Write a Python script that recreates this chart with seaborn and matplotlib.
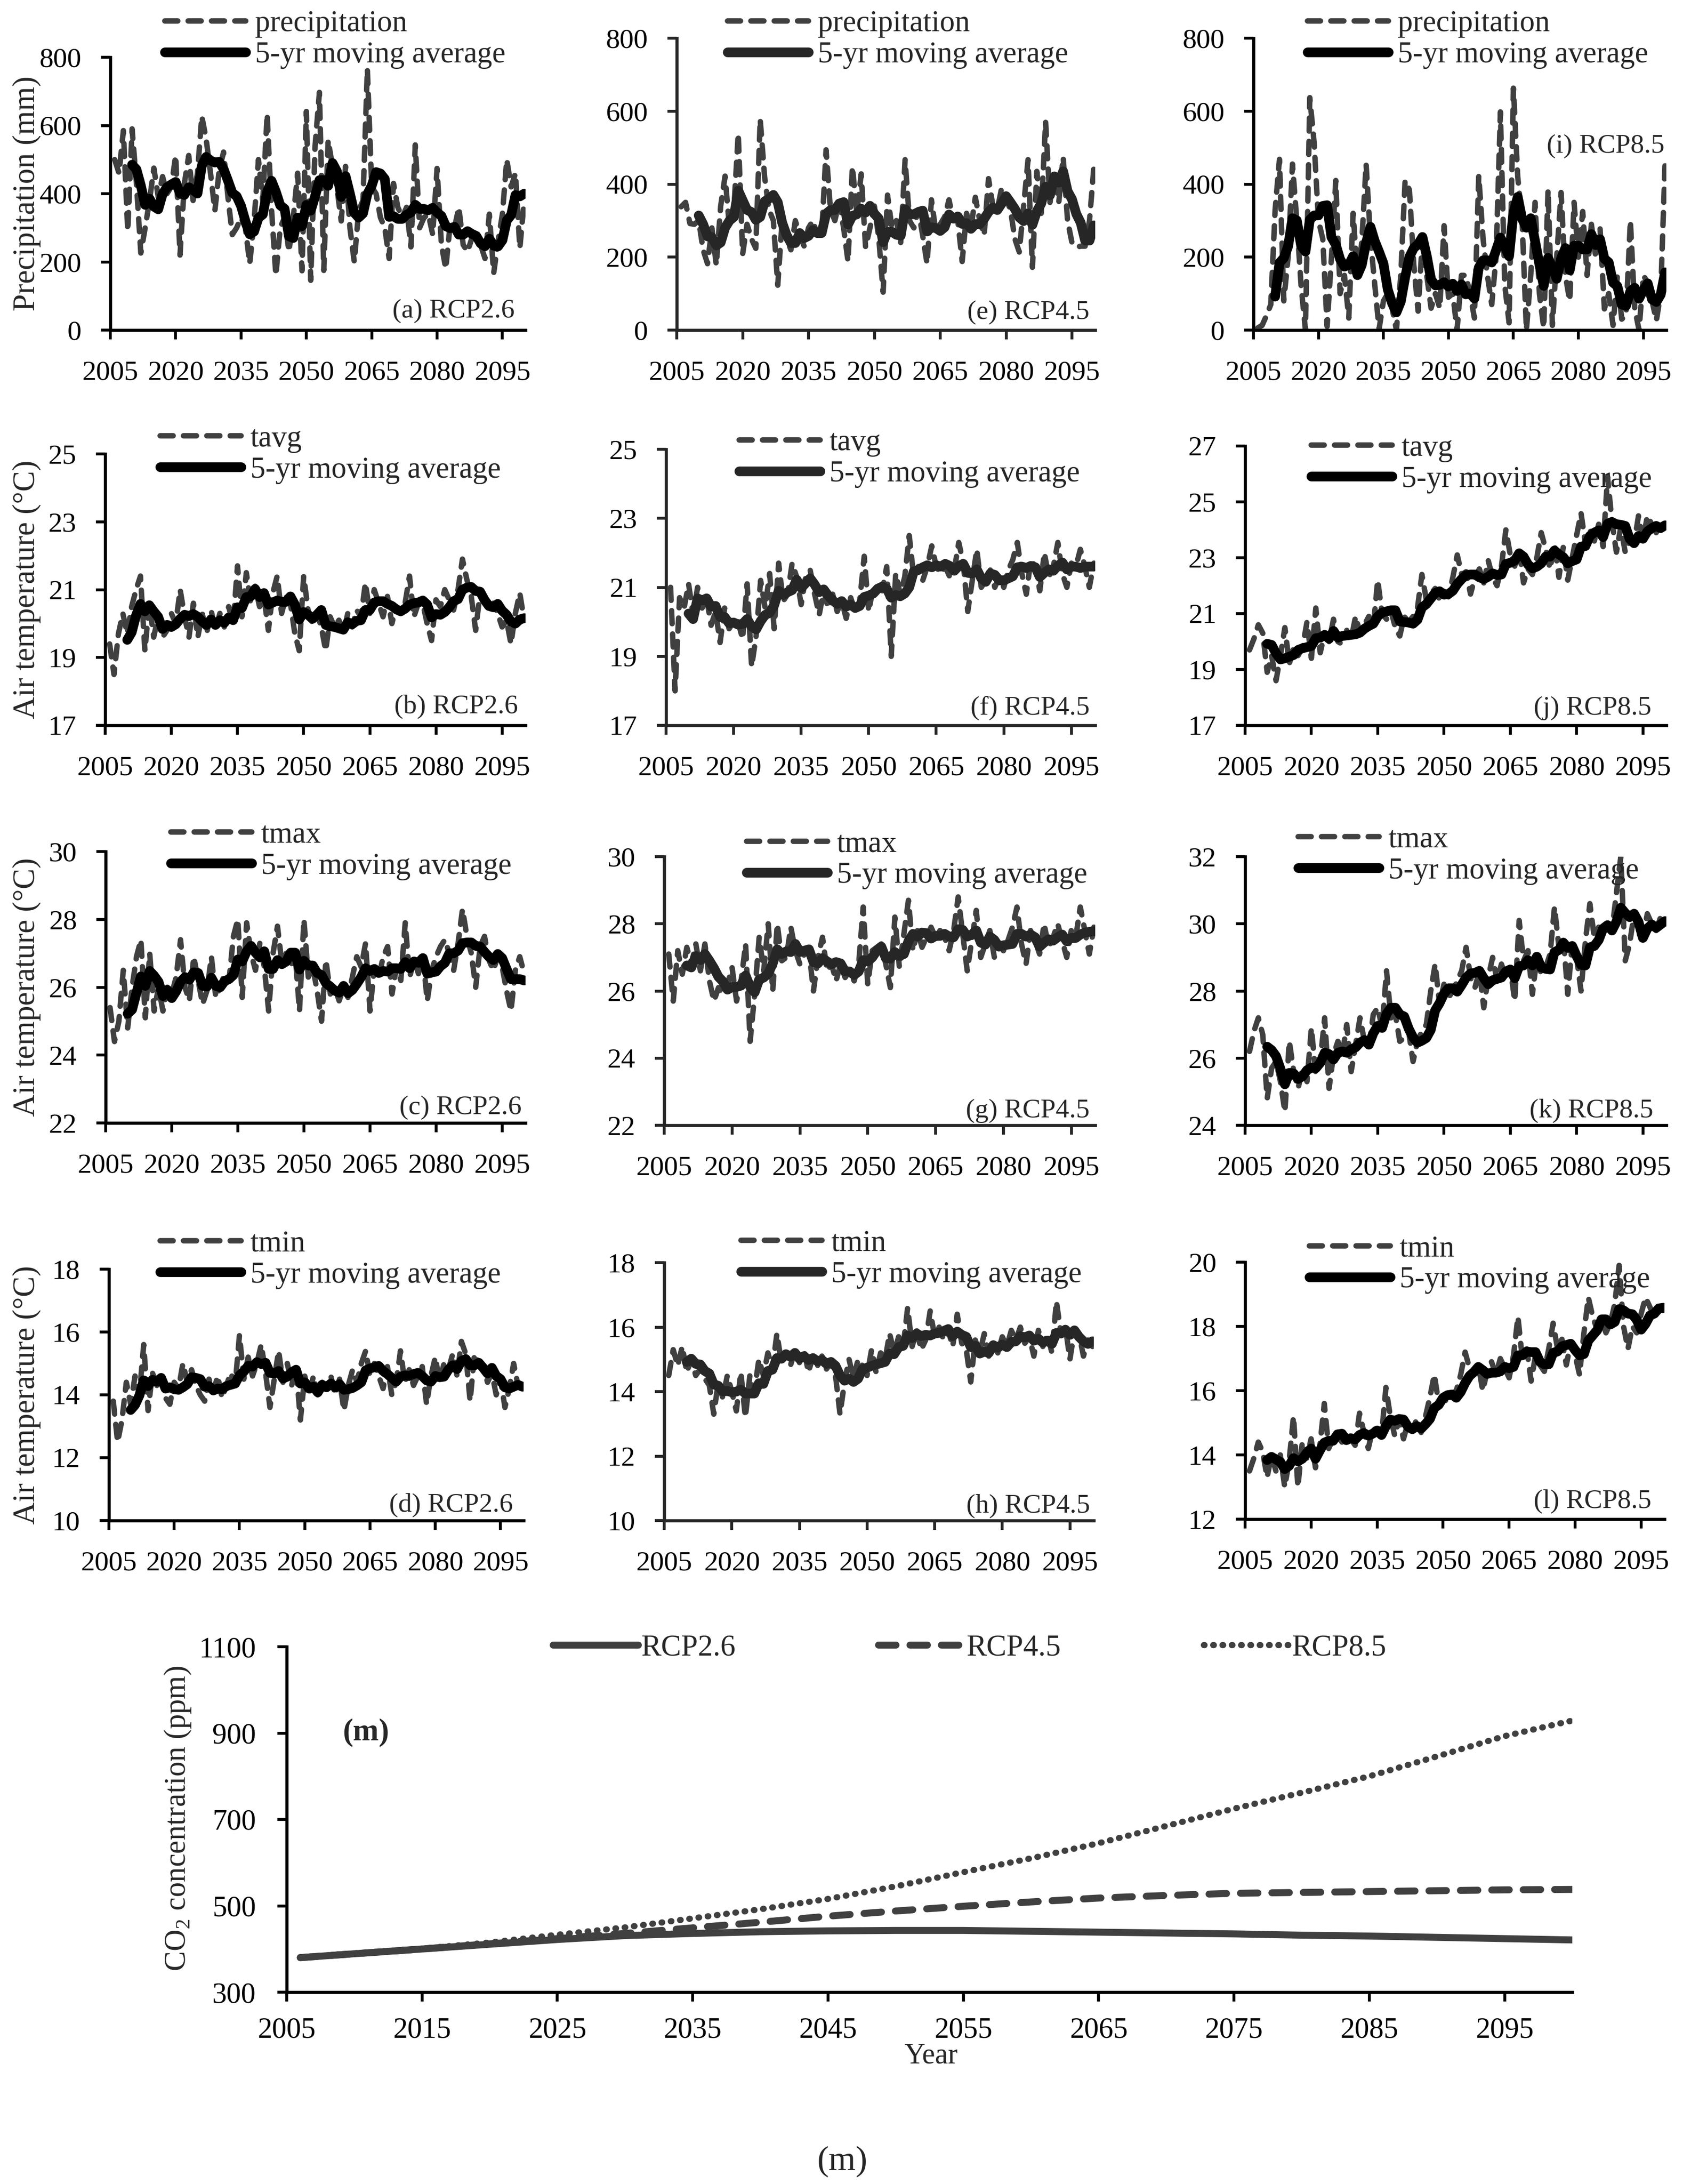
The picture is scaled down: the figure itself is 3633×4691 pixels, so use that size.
import numpy as np
import pandas as pd
import seaborn as sns
import matplotlib.pyplot as plt
from matplotlib.lines import Line2D

# ---- data (annual values 2006-2100) ----
years = list(range(2006, 2101))

precip_rcp26 = [500, 460, 585, 290, 590, 430, 226, 300, 380, 475,
                390, 450, 400, 420, 512, 220, 430, 512, 380, 460,
                627, 560, 460, 350, 470, 522, 390, 280, 300, 330,
                300, 195, 320, 500, 380, 634, 355, 160, 300, 330,
                230, 330, 460, 174, 641, 146, 540, 697, 175, 557,
                480, 420, 320, 480, 300, 200, 350, 380, 766, 420,
                400, 330, 300, 210, 430, 360, 330, 360, 244, 543,
                300, 330, 340, 280, 474, 250, 180, 310, 300, 360,
                250, 230, 270, 270, 250, 210, 340, 167, 260, 340,
                500, 420, 460, 240, 380]
precip_rcp45 = [338, 350, 292, 290, 300, 220, 182, 280, 178, 340,
                422, 280, 330, 539, 208, 290, 250, 224, 578, 420,
                330, 300, 123, 300, 250, 220, 300, 260, 230, 280,
                300, 260, 260, 494, 330, 300, 350, 280, 188, 448,
                320, 428, 227, 280, 340, 253, 104, 370, 280, 300,
                240, 467, 300, 280, 330, 260, 182, 357, 270, 290,
                310, 357, 300, 300, 188, 320, 280, 364, 300, 260,
                415, 340, 330, 390, 360, 330, 250, 214, 340, 467,
                172, 435, 320, 571, 350, 430, 350, 474, 300, 240,
                227, 230, 230, 300, 448]
precip_rcp85 = [6, 13, 40, 70, 330, 468, 80, 200, 455, 300,
                120, 0, 637, 514, 300, 250, 10, 200, 410, 100,
                150, 33, 320, 150, 240, 455, 250, 124, 3, 80,
                100, 60, 0, 150, 410, 384, 180, 52, 250, 150,
                60, 100, 60, 286, 90, 100, 0, 150, 150, 100,
                33, 423, 250, 150, 70, 200, 598, 124, 20, 663,
                420, 300, 0, 150, 350, 100, 6, 384, 13, 200,
                377, 150, 80, 350, 200, 325, 150, 290, 200, 280,
                58, 100, 13, 150, 30, 40, 300, 60, 0, 150,
                130, 80, 26, 100, 455]

tavg_rcp26 = [19.4, 18.5, 19.7, 20.3, 19.7, 20.5, 21.0, 21.4, 19.2, 20.6,
              19.6, 20.2, 19.6, 19.8, 20.3, 20.0, 21.0, 20.2, 19.6, 20.6,
              19.6, 20.3, 19.7, 20.4, 19.8, 20.3, 19.9, 20.5, 20.0, 21.7,
              20.2, 21.5, 20.6, 21.1, 20.5, 20.8, 19.8, 20.9, 21.4, 20.3,
              20.8, 20.6, 19.7, 19.2, 21.4, 20.4, 20.0, 20.3, 19.9, 19.2,
              20.2, 19.9, 20.1, 19.7, 20.3, 19.9, 20.4, 20.2, 21.2, 20.3,
              21.0, 20.6, 20.2, 20.8, 20.0, 20.5, 20.3, 20.6, 21.4, 20.2,
              20.6, 20.6, 20.0, 19.5, 20.7, 20.5, 21.0, 20.7, 20.4, 21.0,
              21.9, 21.3, 20.8, 19.8, 20.9, 20.7, 20.4, 20.6, 20.3, 19.9,
              20.1, 19.4, 20.3, 20.9, 20.1]
tavg_rcp45 = [21.0, 18.0, 20.7, 20.4, 21.1, 20.2, 21.0, 20.4, 20.7, 19.9,
              20.3, 19.4, 20.4, 19.8, 20.0, 20.0, 19.5, 21.1, 18.7, 19.6,
              21.2, 20.4, 21.4, 19.8, 21.7, 20.6, 20.8, 21.7, 21.3, 20.5,
              21.3, 21.5, 20.8, 20.2, 20.9, 20.4, 20.8, 20.3, 20.6, 20.1,
              20.7, 20.3, 20.6, 21.9, 20.3, 21.0, 21.0, 20.9, 21.6, 19.0,
              21.4, 20.8, 21.3, 22.5, 21.3, 21.6, 21.2, 21.6, 22.2, 21.6,
              21.4, 21.6, 21.3, 21.5, 22.3, 21.7, 20.3, 21.2, 22.1, 21.0,
              21.2, 21.5, 21.0, 21.3, 21.0, 21.5, 21.8, 22.3, 21.4, 20.8,
              21.8, 21.6, 20.9, 22.0, 21.3, 21.6, 22.3, 21.4, 21.0, 21.7,
              21.6, 22.1, 21.6, 21.0, 21.7]
tavg_rcp85 = [19.7, 20.1, 20.6, 20.3, 18.9, 19.5, 18.6, 19.5, 20.5, 19.2,
              19.8, 19.5, 19.8, 20.7, 19.4, 21.2, 19.6, 20.3, 20.0, 20.8,
              20.0, 19.9, 20.4, 20.1, 20.9, 20.3, 20.6, 20.9, 20.5, 22.2,
              21.0, 20.8, 21.1, 20.5, 20.2, 20.9, 20.7, 20.9, 21.2, 22.4,
              21.5, 21.7, 21.9, 21.5, 21.8, 21.6, 22.3, 23.1, 22.4, 22.5,
              21.7, 22.3, 22.6, 22.1, 22.9, 22.3, 22.0, 22.7, 24.0, 23.1,
              22.7, 23.3, 22.1, 22.6, 22.4, 23.0, 23.9, 23.3, 22.6, 23.5,
              22.3, 23.4, 22.2, 23.0, 23.8, 24.6, 23.5, 24.0, 23.6, 24.2,
              23.4, 25.9, 24.3, 23.2, 24.1, 23.2, 23.6, 23.5, 24.5, 23.6,
              24.5, 24.2, 23.9, 24.1, 24.1]

tmax_rcp26 = [25.4, 24.4, 25.0, 26.5, 24.8, 26.0, 26.9, 27.4, 25.1, 27.0,
              25.3, 26.0, 25.3, 26.0, 25.8, 26.3, 27.4, 26.0, 25.6, 26.9,
              26.2, 25.5, 25.9, 26.9, 25.7, 26.0, 26.4, 26.2, 27.5, 28.0,
              25.7, 27.9, 27.0, 26.5, 27.3, 26.6, 25.3, 27.0, 27.8, 26.7,
              27.0, 26.6, 27.0, 25.3, 28.0, 26.3, 26.6, 25.9, 25.0, 26.8,
              25.8, 26.0, 25.6, 26.0, 25.7, 26.3, 26.9, 26.6, 27.3, 25.3,
              26.6, 26.3, 26.9, 27.2, 25.8, 26.6, 26.2, 27.9, 26.3, 26.8,
              26.4, 26.9, 25.6, 26.5, 26.9, 27.2, 27.4, 27.0, 26.5, 27.3,
              28.3, 27.5, 27.0, 26.0, 27.2, 27.5, 26.8, 26.5, 26.9, 26.6,
              25.9, 25.3, 26.5, 26.9, 26.4]
tmax_rcp45 = [27.1, 25.7, 27.2, 26.5, 27.3, 26.8, 27.4, 26.6, 27.4, 26.3,
              25.7, 26.1, 25.9, 26.2, 26.7, 25.7, 26.3, 27.4, 24.5, 25.9,
              27.6, 26.6, 28.0, 26.0, 28.0, 26.9, 27.0, 27.9, 27.2, 26.8,
              27.1, 27.2, 26.0, 27.0, 27.6, 26.6, 26.8, 26.3, 26.8, 26.4,
              26.6, 26.3, 26.8, 28.5, 26.2, 27.2, 27.3, 27.4, 26.8, 26.1,
              28.2, 26.7, 27.7, 28.7, 27.2, 27.8, 27.3, 27.6, 27.9, 27.6,
              27.8, 27.6, 27.2, 27.8, 28.8, 27.7, 26.6, 27.5, 28.4, 27.0,
              27.4, 27.8, 27.0, 27.4, 27.2, 27.5, 27.9, 28.5, 27.4, 26.8,
              27.8, 27.5, 27.1, 28.0, 27.3, 27.6, 28.0, 27.5, 27.0, 27.8,
              27.6, 28.5, 27.8, 27.1, 27.9]
tmax_rcp85 = [26.2, 26.8, 27.2, 26.7, 24.8, 25.7, 25.9, 25.3, 24.4, 26.5,
              25.6, 25.1, 25.7, 25.3, 26.9, 25.5, 25.9, 27.2, 25.1, 26.1,
              26.5, 26.1, 27.0, 25.6, 26.4, 27.2, 26.5, 26.3, 27.3, 27.5,
              26.9, 28.6, 27.2, 27.3, 26.5, 26.6, 26.8, 25.9, 26.5, 26.8,
              27.0, 28.0, 28.8, 27.6, 28.2, 27.8, 28.0, 28.3, 28.6, 29.3,
              28.4, 28.1, 28.6, 27.5, 28.4, 29.0, 28.3, 28.8, 28.4, 28.7,
              27.7, 30.1, 28.9, 29.2, 27.9, 29.0, 28.5, 28.7, 29.1, 30.5,
              29.3, 29.6, 27.9, 29.4, 29.0, 28.0, 29.5, 30.6, 29.6, 29.9,
              29.7, 30.0, 29.8, 30.9, 32.0, 28.9, 29.4, 30.3, 29.7, 29.6,
              30.3, 30.0, 29.8, 30.2, 30.1]

tmin_rcp26 = [13.8, 12.5, 13.2, 14.4, 13.7, 14.6, 14.0, 15.6, 13.5, 14.7,
              14.3, 14.6, 13.9, 13.7, 14.4, 14.2, 15.0, 14.4, 14.8, 14.3,
              14.0, 13.8, 14.5, 14.1, 14.6, 13.9, 14.3, 14.7, 14.3, 15.9,
              14.5, 15.2, 14.6, 15.0, 15.6, 14.7, 13.6, 14.5, 15.4, 14.4,
              15.0, 14.3, 14.9, 13.2, 14.6, 14.0, 14.6, 14.0, 14.4, 14.2,
              14.6, 14.0, 14.5, 13.5, 14.3, 14.8, 14.4, 15.0, 15.4, 14.6,
              15.0, 14.6, 14.2, 14.9, 14.0, 14.4, 15.4, 14.4, 14.8, 14.3,
              14.6, 14.9, 13.7, 14.6, 15.2, 14.4, 15.0, 14.8, 15.3, 14.6,
              15.7, 15.3, 13.8, 15.3, 15.0, 14.9, 14.4, 14.7, 14.0, 14.5,
              13.6, 14.2, 15.0, 14.3, 14.2]
tmin_rcp45 = [14.5, 15.3, 14.8, 15.4, 14.6, 15.0, 14.5, 14.7, 14.4, 14.2,
              13.3, 14.3, 13.8, 14.5, 14.0, 13.4, 14.6, 13.2, 14.5, 14.0,
              15.0, 14.5, 15.2, 14.7, 15.8, 14.9, 15.2, 14.8, 15.3, 14.9,
              15.3, 14.6, 15.1, 14.8, 15.1, 14.7, 14.9, 14.5, 13.3, 14.3,
              15.0, 14.4, 15.0, 14.8, 14.5, 15.3, 14.6, 15.2, 15.0, 15.8,
              15.2, 15.7, 15.4, 16.6, 15.4, 15.9, 15.3, 15.6, 16.5, 15.7,
              16.0, 15.6, 15.9, 15.4, 16.4, 15.5, 15.3, 14.3, 15.6, 15.2,
              15.8, 15.1, 15.5, 15.2, 15.7, 15.4, 15.9, 15.6, 16.0, 15.5,
              15.7, 15.1, 15.9, 15.4, 15.8, 15.2, 16.8, 15.8, 16.0, 15.0,
              15.9, 15.8, 15.1, 15.6, 15.4]
tmin_rcp85 = [13.5, 13.9, 14.4, 14.1, 13.3, 14.0, 13.5, 14.0, 13.0, 13.8,
              15.2, 13.0, 14.4, 13.9, 14.5, 13.6, 14.3, 15.6, 14.2, 14.5,
              14.6, 14.4, 14.6, 14.5, 14.3, 15.3, 14.7, 14.2, 14.8, 14.8,
              14.6, 16.1, 15.2, 14.6, 15.1, 14.5, 15.0, 14.8, 15.1, 14.7,
              15.2, 15.8, 16.5, 15.6, 15.8, 15.6, 15.9, 16.0, 16.5, 17.2,
              16.7, 16.5, 16.8, 16.0, 16.6, 16.9, 16.5, 17.0, 16.7, 16.4,
              17.1, 18.3, 17.0, 17.3, 16.3, 17.1, 16.8, 16.6, 17.3, 18.1,
              17.3, 17.6, 16.8, 17.5, 17.1, 16.5, 17.8, 18.9, 18.3, 17.9,
              18.2, 17.8, 18.1, 18.7, 19.9, 18.0, 17.3, 18.0, 17.8, 18.4,
              18.9, 18.6, 18.3, 18.6, 18.5]

co2_years = [2006, 2010, 2015, 2020, 2025, 2030, 2035, 2040, 2045, 2050, 2055,
             2060, 2065, 2070, 2075, 2080, 2085, 2090, 2095, 2100]
co2_rcp26 = [380, 389, 400, 411, 422, 431, 436, 440, 442, 443, 443,
             441, 439, 437, 435, 432, 430, 427, 424, 421]
co2_rcp45 = [380, 389, 400, 412, 424, 436, 449, 462, 476, 488, 499,
             509, 518, 524, 529, 531, 533, 535, 537, 538]
co2_rcp85 = [381, 390, 401, 415, 433, 450, 471, 492, 516, 545, 578,
             610, 645, 685, 725, 762, 800, 846, 893, 929]

x_ticks = list(range(2005, 2096, 15))
co2_ticks = list(range(2005, 2096, 10))

# panel id, values, series name, y range, y step, scenario
panels = [
    ('a', precip_rcp26, 'precipitation', (0, 800), 200, 'RCP2.6'),
    ('e', precip_rcp45, 'precipitation', (0, 800), 200, 'RCP4.5'),
    ('i', precip_rcp85, 'precipitation', (0, 800), 200, 'RCP8.5'),
    ('b', tavg_rcp26, 'tavg', (17, 25), 2, 'RCP2.6'),
    ('f', tavg_rcp45, 'tavg', (17, 25), 2, 'RCP4.5'),
    ('j', tavg_rcp85, 'tavg', (17, 27), 2, 'RCP8.5'),
    ('c', tmax_rcp26, 'tmax', (22, 30), 2, 'RCP2.6'),
    ('g', tmax_rcp45, 'tmax', (22, 30), 2, 'RCP4.5'),
    ('k', tmax_rcp85, 'tmax', (24, 32), 2, 'RCP8.5'),
    ('d', tmin_rcp26, 'tmin', (10, 18), 2, 'RCP2.6'),
    ('h', tmin_rcp45, 'tmin', (10, 18), 2, 'RCP4.5'),
    ('l', tmin_rcp85, 'tmin', (12, 20), 2, 'RCP8.5'),
]
ylabels = {'a': 'Precipitation (mm)', 'b': 'Air temperature (°C)',
           'c': 'Air temperature (°C)', 'd': 'Air temperature (°C)'}

# layout in output pixels: axes box (x0, top, x1, bottom), legend (x, row1 y, row2 y), tag (right x, centre y)
layout = {
    'a': ((237, 123, 1129, 709), (354, 48, 122), (1106, 668)),
    'e': ((1454, 82, 2353, 709), (1563, 48, 122), (2341, 671)),
    'i': ((2693, 82, 3580, 709), (2809, 48, 122), (3576, 314)),
    'b': ((226, 975, 1129, 1558), (344, 937, 1016), (1113, 1518)),
    'f': ((1431, 965, 2353, 1558), (1588, 944, 1026), (2341, 1521)),
    'j': ((2675, 958, 3580, 1558), (2817, 957, 1036), (3548, 1521)),
    'c': ((227, 1829, 1129, 2412), (367, 1792, 1863), (1121, 2379)),
    'g': ((1427, 1840, 2353, 2417), (1604, 1805, 1889), (2341, 2386)),
    'k': ((2675, 1840, 3580, 2417), (2789, 1799, 1876), (3552, 2386)),
    'd': ((234, 2726, 1125, 3266), (344, 2666, 2745), (1102, 3233)),
    'h': ((1427, 2712, 2350, 3266), (1592, 2666, 2743), (2342, 3235)),
    'l': ((2675, 2711, 3576, 3263), (2813, 2679, 2753), (3548, 3225)),
}
gray_panels = ['e', 'f', 'g', 'h']

W, H, DPI = 3633, 4691, 300
RAW = '#404040'
RAW_DASH = (0, (2.4, 1.9))
MA_LW = 5.0

sns.set_style('ticks')
plt.rcParams['font.family'] = ['Liberation Serif', 'DejaVu Serif']
plt.rcParams['mathtext.fontset'] = 'custom'
plt.rcParams['mathtext.rm'] = 'Liberation Serif'

fig = plt.figure(figsize=(W / DPI, H / DPI), dpi=DPI)
fig.patch.set_facecolor('white')


def add_px_axes(box):
    x0, y0, x1, y1 = box
    return fig.add_axes([x0 / W, 1 - y1 / H, (x1 - x0) / W, (y1 - y0) / H])


def style_axes(ax, color, size, ypad, xpad):
    for side in ['top', 'right']:
        ax.spines[side].set_visible(False)
    for side in ['left', 'bottom']:
        ax.spines[side].set_linewidth(1.6)
        ax.spines[side].set_color(color)
    ax.set_facecolor('none')
    ax.tick_params(direction='out', length=4.8, width=1.5, color=color,
                   labelsize=size, labelcolor='black')
    ax.tick_params(axis='y', pad=ypad)
    ax.tick_params(axis='x', pad=xpad)
    ax.set_xlabel('')
    ax.set_ylabel('')


for key, vals, name, ylim, ystep, scen in panels:
    box, leg, tag = layout[key]
    ax = add_px_axes(box)
    line_col = '#262626' if key in gray_panels else '#000000'

    s = pd.Series(vals, index=years, dtype=float)
    ma = s.rolling(5).mean().dropna()

    sns.lineplot(x=years, y=vals, ax=ax, color=RAW, lw=2.8, linestyle=RAW_DASH,
                 dash_capstyle='round', errorbar=None)
    sns.lineplot(x=list(ma.index), y=list(ma.values), ax=ax, color=line_col, lw=MA_LW,
                 solid_capstyle='round', solid_joinstyle='round', errorbar=None)

    ax.set_xlim(2005, 2100.3)
    ax.set_ylim(*ylim)
    ax.set_xticks(x_ticks)
    ax.set_yticks(list(range(ylim[0], ylim[1] + 1, ystep)))
    style_axes(ax, line_col, 14.5, 10, 11)

    x0, y0, x1, y1 = box
    if key in ylabels:
        fig.text(57 / W, 1 - (y0 + y1) / 2 / H, ylabels[key], rotation=90,
                 ha='center', va='center', fontsize=16)

    ax.text((tag[0] - x0) / (x1 - x0), (y1 - tag[1]) / (y1 - y0), f'({key}) {scen}',
            transform=ax.transAxes, ha='right', va='center', fontsize=14)

    handles = [Line2D([], [], color=RAW, lw=2.8, linestyle=RAW_DASH, dash_capstyle='round'),
               Line2D([], [], color=line_col, lw=MA_LW, solid_capstyle='round')]
    ax.legend(handles, [name, '5-yr moving average'], loc='center left',
              bbox_to_anchor=(leg[0] / W, 1 - (leg[1] + leg[2]) / 2 / H),
              bbox_transform=fig.transFigure, frameon=False, fontsize=15.5,
              handlelength=2.7, handletextpad=0.3, labelspacing=0.12,
              borderpad=0, borderaxespad=0)

# ---- panel (m): CO2 concentration ----
m_box = (616, 3537, 3378, 4279)
axm = add_px_axes(m_box)
sns.lineplot(x=co2_years, y=co2_rcp26, ax=axm, color=RAW, lw=3.6,
             solid_capstyle='round', errorbar=None)
sns.lineplot(x=co2_years, y=co2_rcp45, ax=axm, color=RAW, lw=3.6,
             linestyle=(0, (2.5, 2.0)), dash_capstyle='round', errorbar=None)
sns.lineplot(x=co2_years, y=co2_rcp85, ax=axm, color=RAW, lw=3.2,
             linestyle=(0, (0.1, 1.4)), dash_capstyle='round', errorbar=None)
axm.set_xlim(2005, 2100)
axm.set_ylim(300, 1100)
axm.set_xticks(co2_ticks)
axm.set_yticks(list(range(300, 1101, 200)))
style_axes(axm, '#000000', 15, 11, 8)

m_handles = [Line2D([], [], color=RAW, lw=3.6, solid_capstyle='round'),
             Line2D([], [], color=RAW, lw=3.6, linestyle=(0, (2.5, 2.0)), dash_capstyle='round'),
             Line2D([], [], color=RAW, lw=3.2, linestyle=(0, (0.1, 1.4)), dash_capstyle='round')]
axm.legend(m_handles, ['RCP2.6', 'RCP4.5', 'RCP8.5'], loc='center left',
           bbox_to_anchor=(1188 / W, 1 - 3540 / H), bbox_transform=fig.transFigure,
           ncol=3, frameon=False, fontsize=15.5, handlelength=2.83,
           handletextpad=0.1, columnspacing=4.75, borderpad=0, borderaxespad=0)

fig.text(786 / W, 1 - 3721 / H, '(m)', ha='center', va='center',
         fontsize=16, fontweight='bold')
fig.text(2000 / W, 1 - 4417 / H, 'Year', ha='center', va='center', fontsize=15)
fig.text(382 / W, 1 - 3906 / H, r'CO$_\mathrm{2}$ concentration (ppm)', ha='center',
         va='center', rotation=90, fontsize=15.5)
fig.text(1810 / W, 1 - 4643 / H, '(m)', ha='center', va='center', fontsize=18)

fig.savefig('out.png', dpi=DPI, facecolor='white')
